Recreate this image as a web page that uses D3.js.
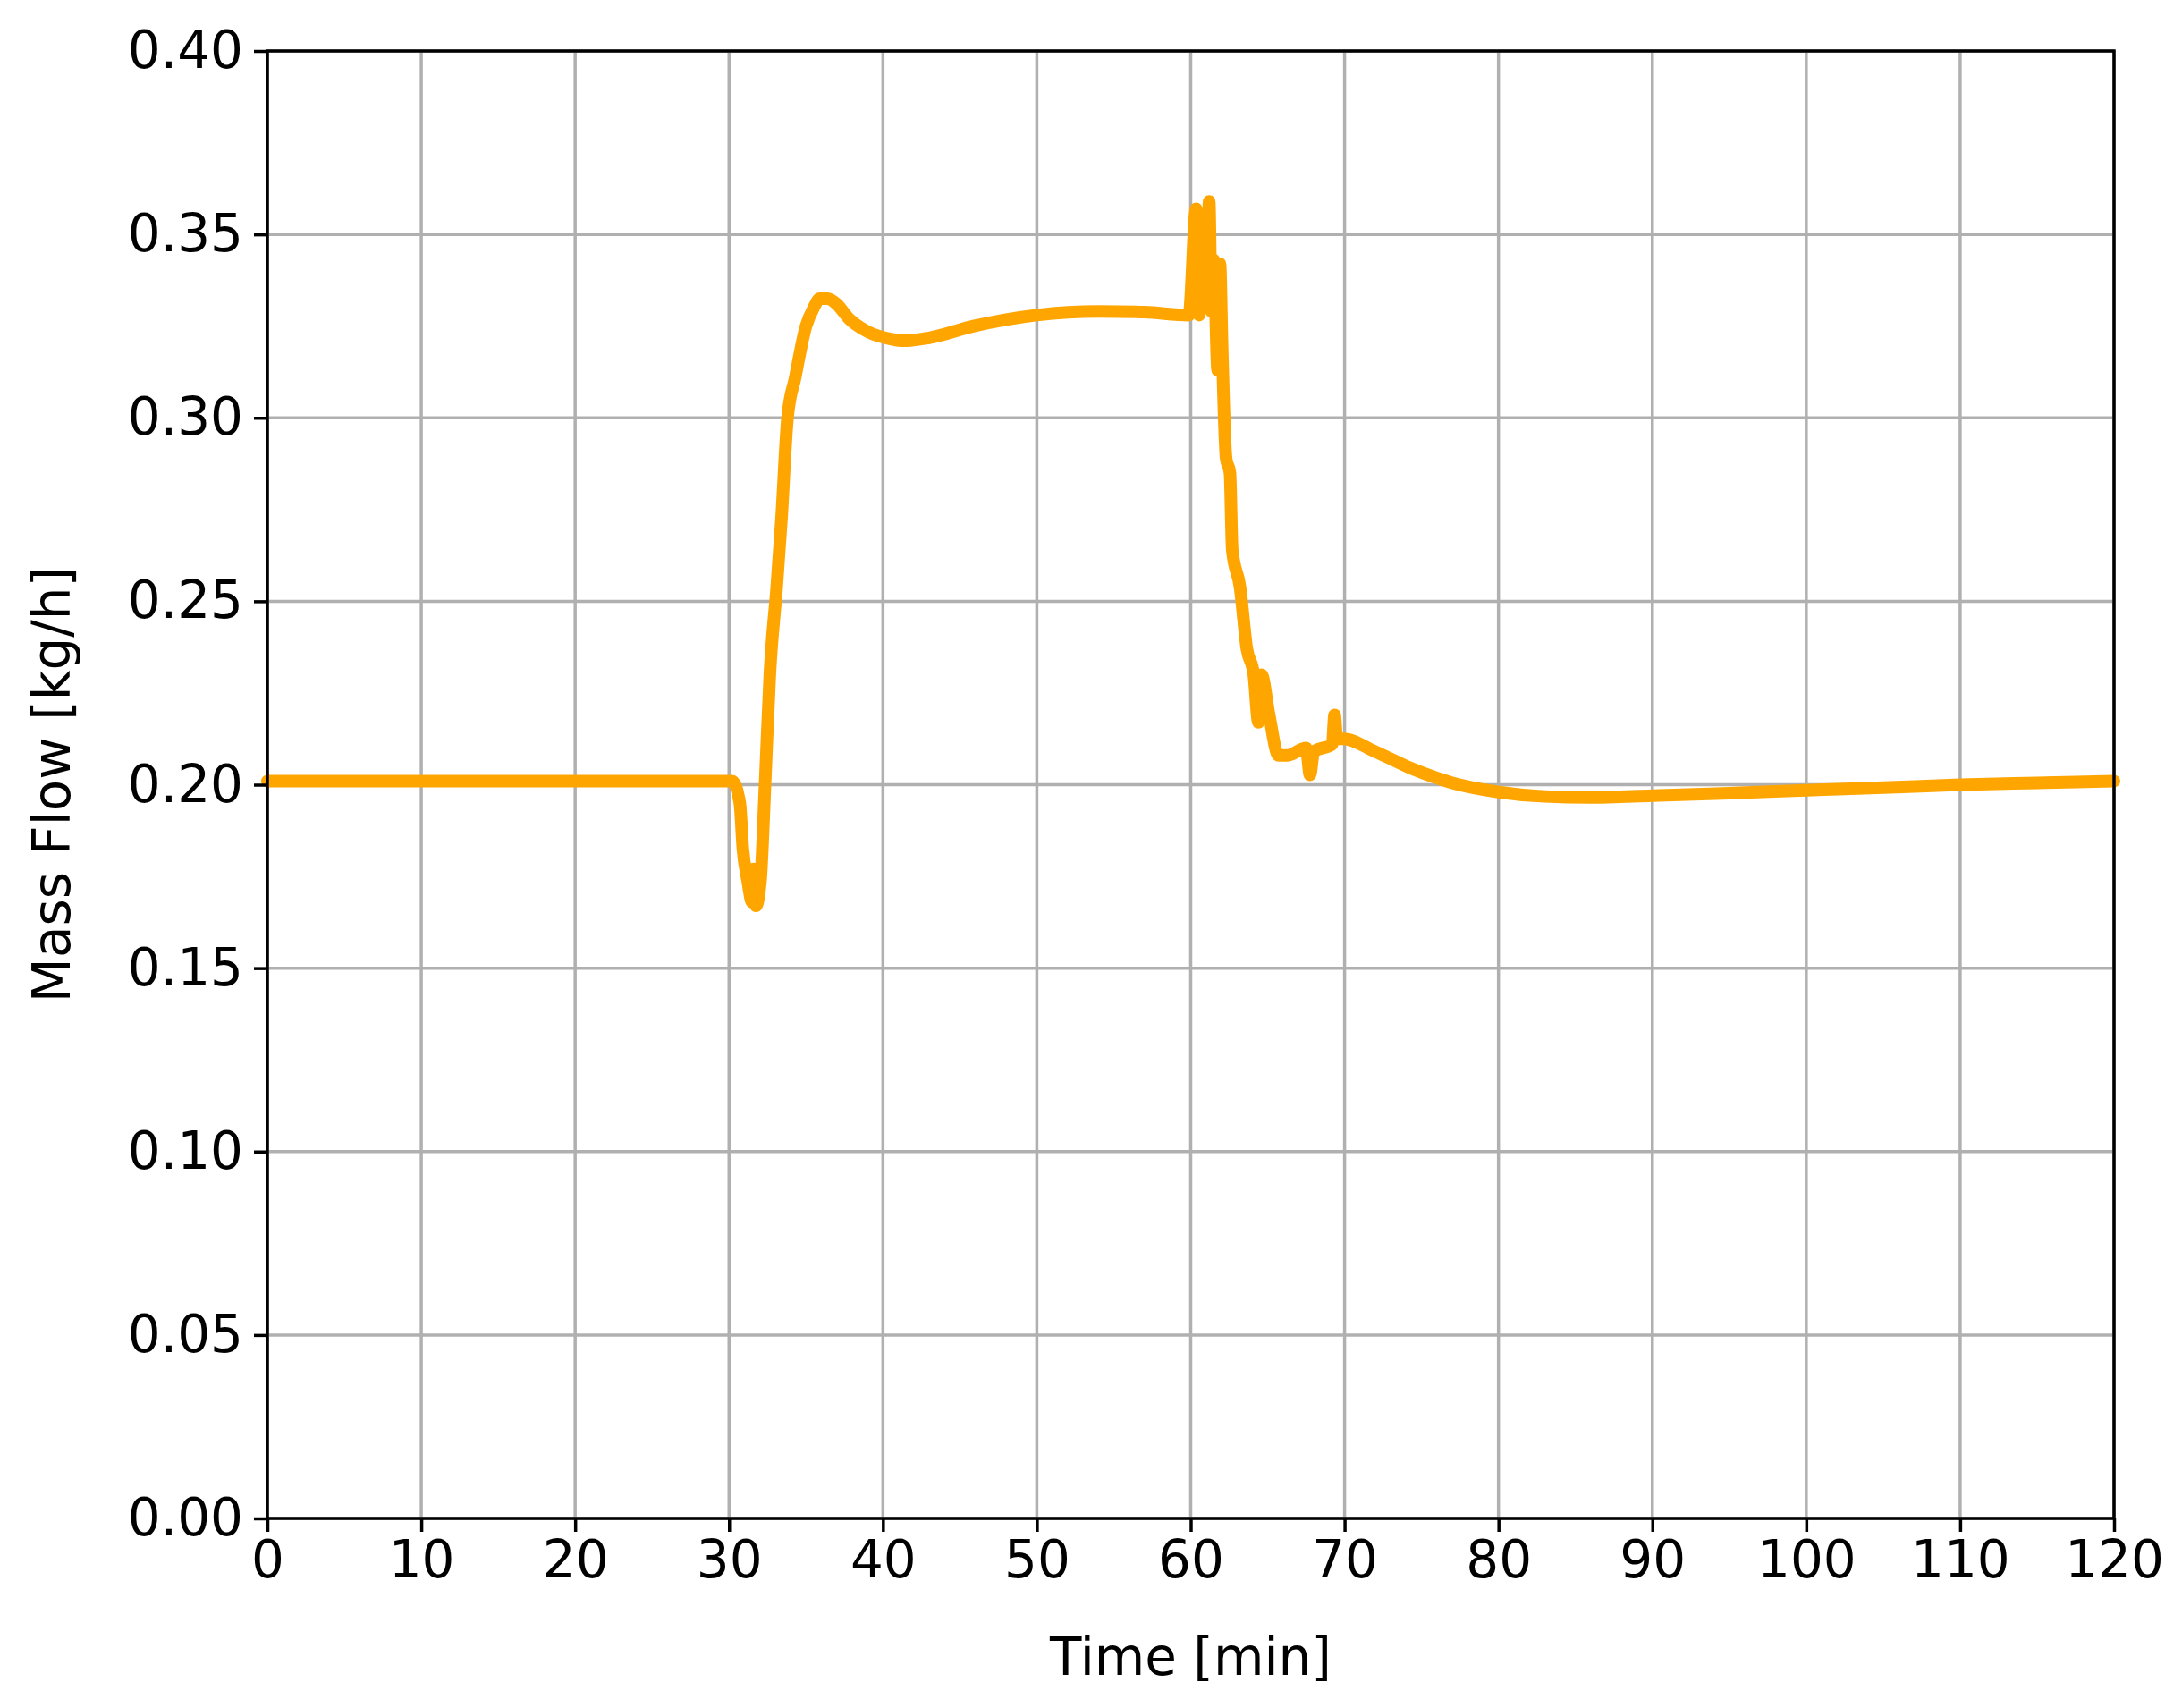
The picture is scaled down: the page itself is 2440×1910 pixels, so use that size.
<!DOCTYPE html>
<html><head><meta charset="utf-8">
<script src="https://cdn.jsdelivr.net/npm/d3@7"></script>
<style>body{margin:0;background:#fff}svg{display:block}text{font-family:"DejaVu Sans",sans-serif}</style>
</head><body><svg id="c" width="2440" height="1910"></svg>
<script>
const timeMin = [0,10,20,30,30.2,30.7,30.9,31.2,31.5,31.6,31.75,32.05,32.35,32.65,33.1,33.4,33.8,34.3,35.0,35.5,35.9,36.4,37,37.8,39,40.5,41.4,43,45.9,50,54,57,59.88,60.35,60.55,60.75,60.99,61.2,61.35,61.5,61.75,61.9,62.05,62.3,62.55,62.7,63.2,63.65,64.1,64.4,64.6,65.1,65.7,66.3,67.5,67.75,68.0,69.2,69.35,69.5,69.9,72,74.3,77,80,83,86,90,95,100,105,110,115,120];
const massFlow = [0.201,0.201,0.201,0.201,0.201,0.195,0.1825,0.174,0.168,0.177,0.167,0.174,0.201,0.230,0.254,0.272,0.300,0.311,0.325,0.330,0.3325,0.3325,0.331,0.327,0.3235,0.3215,0.321,0.3218,0.325,0.328,0.329,0.3288,0.328,0.357,0.328,0.354,0.33,0.359,0.329,0.343,0.313,0.342,0.318,0.289,0.285,0.264,0.254,0.237,0.230,0.217,0.230,0.219,0.208,0.208,0.210,0.2027,0.209,0.211,0.219,0.2125,0.2125,0.209,0.2045,0.2005,0.198,0.1968,0.1965,0.197,0.1977,0.1985,0.1992,0.2,0.2005,0.201];
const xTicks = [0,10,20,30,40,50,60,70,80,90,100,110,120];
const yTicks = [0,0.05,0.10,0.15,0.20,0.25,0.30,0.35,0.40];

const L=299,R=2364,T=57,B=1698;
const svg=d3.select("#c");
const x=d3.scaleLinear().domain([0,120]).range([L,R]);
const y=d3.scaleLinear().domain([0,0.4]).range([B,T]);
const g=svg.append("g");
g.selectAll(".gx").data(xTicks).join("line").attr("x1",d=>x(d)).attr("x2",d=>x(d)).attr("y1",T).attr("y2",B).attr("stroke","#b0b0b0").attr("stroke-width",3.5);
g.selectAll(".gy").data(yTicks).join("line").attr("y1",d=>y(d)).attr("y2",d=>y(d)).attr("x1",L).attr("x2",R).attr("stroke","#b0b0b0").attr("stroke-width",3.5);
svg.append("path").datum(timeMin.map((t,i)=>[t,massFlow[i]]))
 .attr("d",d3.line().curve(d3.curveMonotoneX).x(d=>x(d[0])).y(d=>y(d[1])))
 .attr("fill","none").attr("stroke","#ffa500").attr("stroke-width",14).attr("stroke-linejoin","round").attr("stroke-linecap","round");
svg.append("rect").attr("x",L).attr("y",T).attr("width",R-L).attr("height",B-T).attr("fill","none").attr("stroke","#000").attr("stroke-width",3.5);
const ax=svg.append("g").attr("transform",`translate(0,${B})`).call(d3.axisBottom(x).tickValues(xTicks).tickFormat(d3.format("d")).tickSize(15).tickPadding(10));
const ay=svg.append("g").attr("transform",`translate(${L},0)`).call(d3.axisLeft(y).tickValues(yTicks).tickFormat(d3.format(".2f")).tickSize(15).tickPadding(12));
[ax,ay].forEach(a=>{a.select(".domain").remove();a.selectAll("line").attr("stroke","#000").attr("stroke-width",3.5);a.selectAll("text").attr("font-size",58).attr("fill","#000").style("font-family","DejaVu Sans");});
svg.append("text").attr("x",(L+R)/2).attr("y",1873).attr("text-anchor","middle").attr("font-size",58).text("Time [min]");
svg.append("text").attr("transform",`translate(78,${(T+B)/2}) rotate(-90)`).attr("text-anchor","middle").attr("font-size",58).text("Mass Flow [kg/h]");
</script></body></html>
